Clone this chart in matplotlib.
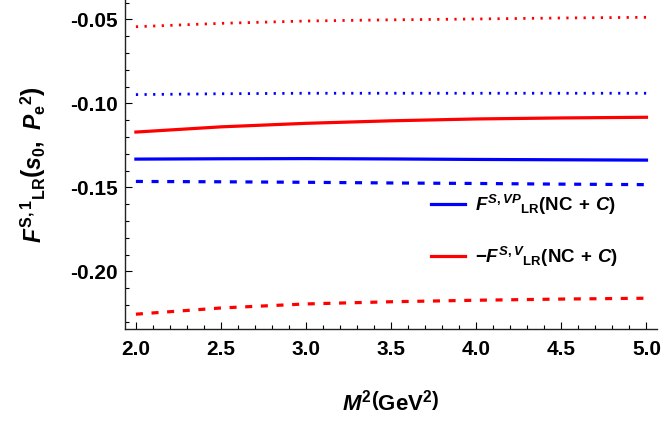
import matplotlib
matplotlib.use("Agg")
import matplotlib.pyplot as plt
from matplotlib.ticker import MultipleLocator, FormatStrFormatter

plt.rcParams['font.family'] = ['Liberation Sans', 'DejaVu Sans']
plt.rcParams['font.weight'] = 'bold'
plt.rcParams['mathtext.fontset'] = 'custom'
plt.rcParams['mathtext.rm'] = 'Liberation Sans:bold'
plt.rcParams['mathtext.it'] = 'Liberation Sans:italic:bold'
plt.rcParams['mathtext.bf'] = 'Liberation Sans:bold'
plt.rcParams['mathtext.sf'] = 'Liberation Sans:bold'

# M^2 values (GeV^2) and curves
m2 = [2.0, 2.5, 3.0, 3.5, 4.0, 4.5, 5.0]
blue_solid = [-0.1332, -0.1330, -0.1329, -0.1331, -0.1334, -0.1336, -0.1338]
blue_dashed = [-0.1465, -0.1467, -0.1470, -0.1474, -0.1477, -0.1481, -0.1484]
blue_dotted = [-0.0948, -0.0943, -0.0940, -0.0940, -0.0940, -0.0940, -0.0940]
red_solid = [-0.1171, -0.1140, -0.1119, -0.1104, -0.1093, -0.1087, -0.1083]
red_dashed = [-0.2255, -0.2218, -0.2194, -0.2181, -0.2172, -0.2165, -0.2160]
red_dotted = [-0.0544, -0.0524, -0.0510, -0.0503, -0.0498, -0.0492, -0.0488]

labels = [r'$F^{S,VP}{}_{\mathrm{LR}}(\mathrm{NC}\,+\,C)$',
          r'$-F^{S,V}{}_{\mathrm{LR}}(\mathrm{NC}\,+\,C)$']

BLUE = '#0000ff'
RED = '#ff0000'
dash = (0, (2.2, 2.7))
dot = (0, (0.8, 2.3))

fig = plt.figure(figsize=(6.64, 4.23), dpi=100)
ax = fig.add_axes([0.188, 0.2215, 0.801, 0.7785])

ax.plot(m2, blue_dotted, color=BLUE, lw=2.0, ls=dot)
ax.plot(m2, red_dotted, color=RED, lw=2.0, ls=dot)
ax.plot(m2, blue_dashed, color=BLUE, lw=2.3, ls=dash)
ax.plot(m2, red_dashed, color=RED, lw=2.3, ls=dash)
l1, = ax.plot(m2, blue_solid, color=BLUE, lw=2.3, label=labels[0])
l2, = ax.plot(m2, red_solid, color=RED, lw=2.3, label=labels[1])

ax.set_xlim(1.935, 5.06)
ax.set_ylim(-0.2345, -0.0385)

for s in ['top', 'right']:
    ax.spines[s].set_visible(False)
for s in ['left', 'bottom']:
    ax.spines[s].set_linewidth(1.0)
    ax.spines[s].set_color('#222222')

ax.xaxis.set_major_locator(MultipleLocator(0.5))
ax.xaxis.set_minor_locator(MultipleLocator(0.1))
ax.yaxis.set_major_locator(MultipleLocator(0.05))
ax.yaxis.set_minor_locator(MultipleLocator(0.01))
ax.xaxis.set_major_formatter(FormatStrFormatter('%.1f'))
ax.yaxis.set_major_formatter(FormatStrFormatter('%.2f'))
ax.tick_params(which='major', direction='in', length=5, width=0.8, labelsize=15)
ax.tick_params(which='minor', direction='in', length=3, width=0.8)
ax.tick_params(axis='x', which='major', pad=8)
ax.tick_params(axis='y', which='major', pad=5)

ax.set_xlabel(r'$M^2\left(\mathrm{GeV}^2\right)$', fontsize=16, labelpad=22)
ax.set_ylabel(r'$F^{\mathrm{S,1}}{}_{\mathrm{LR}}\left(s_0,\ P_{\mathrm{e}}{}^{2}\right)$',
              fontsize=16.5, labelpad=16)

ax.legend(handles=[l1, l2], loc='upper left', bbox_to_anchor=(0.576, 0.415),
          frameon=False, fontsize=13.5, handlelength=1.8, handletextpad=0.55,
          labelspacing=1.5, borderpad=0, borderaxespad=0)

fig.savefig('out.png', dpi=100)
